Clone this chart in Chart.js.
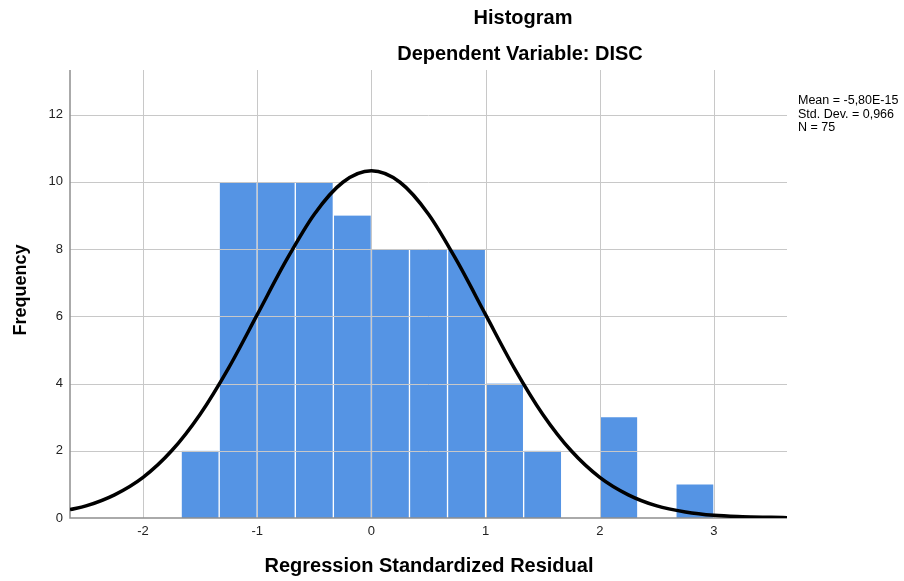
<!DOCTYPE html>
<html>
<head>
<meta charset="utf-8">
<script src="https://cdn.jsdelivr.net/npm/chart.js@4"></script>
<style>
  html, body { margin: 0; padding: 0; background: #fff; }
  #wrap { width: 904px; height: 581px; }
</style>
</head>
<body>
<div id="wrap"><canvas id="histChart" width="904" height="581"></canvas></div>
<script>
// bins are 1/3 wide, values given as bin centres
const binCenters = [-1.5, -1.16667, -0.83333, -0.5, -0.16667, 0.16667, 0.5, 0.83333, 1.16667, 1.5, 1.83333, 2.16667, 2.5, 2.83333];
const binCounts = [2, 10, 10, 10, 9, 8, 8, 8, 4, 2, 0, 3, 0, 1];

// normal curve
const curveX = [-2.64, -2.5, -2.25, -2, -1.75, -1.5, -1.25, -1, -0.75, -0.5, -0.25, 0, 0.25, 0.5, 0.75, 1, 1.25, 1.5, 1.75, 2, 2.25, 2.5, 2.75, 3, 3.25, 3.5, 3.64];
const curveY = [0.25, 0.36, 0.69, 1.21, 2.00, 3.09, 4.47, 6.05, 7.64, 9.04, 9.99, 10.33, 9.99, 9.04, 7.64, 6.05, 4.47, 3.09, 2.00, 1.21, 0.69, 0.36, 0.18, 0.08, 0.04, 0.02, 0.01];

const xTicks = [-2, -1, 0, 1, 2, 3];
const yTicks = [0, 2, 4, 6, 8, 10, 12];
const statsLines = ['Mean = -5,80E-15', 'Std. Dev. = 0,966', 'N = 75'];

const FONT = "'Liberation Sans', Arial, sans-serif";

// grid over the bars but under the curve (like SPSS)
const gridAfterBars = {
    id: 'gridAfterBars',
    afterDatasetDraw(chart, args) {
        if (args.index !== 0) return;
        const { ctx, chartArea: a, scales } = chart;
        ctx.save();
        ctx.strokeStyle = '#c8c8c8';
        ctx.lineWidth = 1;
        xTicks.forEach(v => {
            const px = Math.round(scales.x.getPixelForValue(v)) + 0.5;
            ctx.beginPath(); ctx.moveTo(px, a.top); ctx.lineTo(px, a.bottom); ctx.stroke();
        });
        yTicks.forEach(v => {
            if (v === 0) return;
            const py = Math.round(scales.y.getPixelForValue(v)) + 0.5;
            ctx.beginPath(); ctx.moveTo(a.left, py); ctx.lineTo(a.right, py); ctx.stroke();
        });
        // axis lines
        ctx.strokeStyle = '#8f8f8f';
        ctx.lineWidth = 1.5;
        ctx.beginPath();
        ctx.moveTo(a.left, a.top); ctx.lineTo(a.left, a.bottom); ctx.lineTo(a.right, a.bottom);
        ctx.stroke();
        ctx.restore();
    }
};

// titles, axis titles, stats box
const textLayer = {
    id: 'textLayer',
    afterDraw(chart) {
        const { ctx } = chart;
        ctx.save();
        ctx.fillStyle = '#000';
        ctx.textBaseline = 'middle';
        ctx.textAlign = 'center';
        ctx.font = 'bold 20px ' + FONT;
        ctx.fillText('Histogram', 523, 18);
        ctx.fillText('Dependent Variable: DISC', 520, 54);
        ctx.fillText('Regression Standardized Residual', 429, 566);

        ctx.font = 'bold 18px ' + FONT;
        ctx.translate(21, 290);
        ctx.rotate(-Math.PI / 2);
        ctx.fillText('Frequency', 0, 0);
        ctx.setTransform(1, 0, 0, 1, 0, 0);

        ctx.textAlign = 'left';
        ctx.font = '12.5px ' + FONT;
        statsLines.forEach((s, i) => ctx.fillText(s, 798, 101 + i * 13.5));
        ctx.restore();
    }
};

new Chart(document.getElementById('histChart').getContext('2d'), {
    type: 'bar',
    data: {
        datasets: [
            {
                type: 'bar',
                data: binCenters.map((x, i) => ({ x: x, y: binCounts[i] })),
                backgroundColor: '#5594e4',
                borderColor: '#ffffff',
                borderWidth: { left: 1, right: 1, top: 0, bottom: 0 },
                borderSkipped: false,
                barPercentage: 1,
                categoryPercentage: 1,
                order: 2
            },
            {
                type: 'line',
                data: curveX.map((x, i) => ({ x: x, y: curveY[i] })),
                borderColor: '#000000',
                borderWidth: 3.5,
                pointRadius: 0,
                fill: false,
                cubicInterpolationMode: 'monotone',
                order: 1
            }
        ]
    },
    options: {
        responsive: false,
        animation: false,
        layout: { padding: { top: 70, right: 117, left: 0, bottom: 0 } },
        plugins: { legend: { display: false }, tooltip: { enabled: false }, title: { display: false } },
        scales: {
            x: {
                type: 'linear',
                min: -2.64,
                max: 3.64,
                offset: false,
                grid: { display: false, drawTicks: false },
                border: { display: false },
                ticks: { stepSize: 1, padding: 6, color: '#222', font: { family: FONT, size: 13 } },
                afterBuildTicks: s => { s.ticks = xTicks.map(v => ({ value: v })); },
                afterFit: s => { s.height = 63; }
            },
            y: {
                min: 0,
                max: 13.33,
                grid: { display: false, drawTicks: false },
                border: { display: false },
                ticks: { stepSize: 2, padding: 7, color: '#222', font: { family: FONT, size: 13 } },
                afterBuildTicks: s => { s.ticks = yTicks.map(v => ({ value: v })); },
                afterFit: s => { s.width = 70; }
            }
        }
    },
    plugins: [gridAfterBars, textLayer]
});
</script>
</body>
</html>
